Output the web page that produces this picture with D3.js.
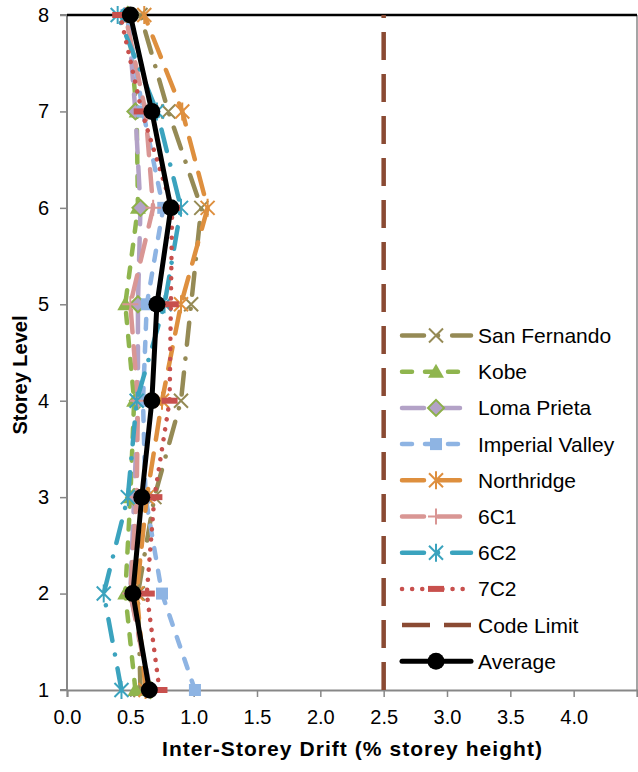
<!DOCTYPE html>
<html>
<head>
<meta charset="utf-8">
<script src="https://cdn.jsdelivr.net/npm/d3@7"></script>
<style>
  html, body { margin: 0; padding: 0; background: #fff; }
  svg { display: block; font-family: "Liberation Sans", Arial, sans-serif; }
</style>
</head>
<body>
<svg id="chart" width="638" height="772"></svg>
<script>
// Storey levels (y) and inter-storey drift per ground motion (x, % storey height)
const levels = [1, 2, 3, 4, 5, 6, 7, 8];
const sanFernando    = [0.58, 0.56, 0.69, 0.90, 0.98, 1.06, 0.80, 0.58];
const kobe           = [0.54, 0.46, 0.50, 0.53, 0.46, 0.56, 0.55, 0.48];
const lomaPrieta     = [0.66, 0.50, 0.53, 0.56, 0.56, 0.58, 0.54, 0.48];
const imperialValley = [1.01, 0.75, 0.62, 0.60, 0.63, 0.76, 0.60, 0.47];
const northridge     = [0.62, 0.55, 0.63, 0.75, 0.90, 1.11, 0.91, 0.61];
const record6C1      = [0.65, 0.50, 0.55, 0.56, 0.50, 0.68, 0.62, 0.46];
const record6C2      = [0.43, 0.29, 0.48, 0.55, 0.77, 0.90, 0.71, 0.40];
const record7C2      = [0.73, 0.63, 0.69, 0.81, 0.82, 0.83, 0.59, 0.42];
const average        = [0.65, 0.52, 0.59, 0.67, 0.71, 0.82, 0.67, 0.50];
const codeLimitLevels = [1, 8];
const codeLimitDrift  = [2.5, 2.5];

const xTicks = [0, 0.5, 1.0, 1.5, 2.0, 2.5, 3.0, 3.5, 4.0, 4.5];
const yTicks = [1, 2, 3, 4, 5, 6, 7, 8];

const svg = d3.select("#chart");
const x = d3.scaleLinear().domain([0, 4.5]).range([67, 637]);
const y = d3.scaleLinear().domain([1, 8]).range([690, 15]);

// line styles: dasharrays tuned for round caps
const dash = {
  longDash: "22,14",
  dash: "10,13",
  longDashDot: "22,14,0.1,14",
  roundDot: "0.1,10"
};

// marker painters: draw a symbol centred on (0,0) into group g
function mX(g, c) {
  g.append("path").attr("d", "M-7,-7L7,7M-7,7L7,-7")
    .attr("stroke", c).attr("stroke-width", 2).attr("fill", "none");
}
function mStar(g, c) {
  g.append("path").attr("d", "M-7,-7L7,7M-7,7L7,-7M0,-9L0,9")
    .attr("stroke", c).attr("stroke-width", 2).attr("fill", "none");
}
function mPlus(g, c) {
  g.append("path").attr("d", "M-8,0L8,0M0,-8L0,8")
    .attr("stroke", c).attr("stroke-width", 2).attr("fill", "none");
}
function mTri(g, c) {
  g.append("path").attr("d", "M0,-8L8,6L-8,6Z").attr("fill", c);
}
function mDiamond(g, c) {
  g.append("path").attr("d", "M0,-8L8,0L0,8L-8,0Z")
    .attr("fill", c).attr("stroke", "#8DB04A").attr("stroke-width", 2);
}
function mSquare(g, c) {
  g.append("rect").attr("x", -6).attr("y", -6).attr("width", 12).attr("height", 12).attr("fill", c);
}
function mBar(g, c) {
  g.append("rect").attr("x", -8).attr("y", -3).attr("width", 16).attr("height", 6).attr("fill", c);
}
function mCircle(g, c) {
  g.append("circle").attr("r", 8.5).attr("fill", c);
}

const series = [
  { name: "San Fernando",    values: sanFernando,    color: "#958A55", dash: dash.longDashDot, width: 4.5, marker: mX },
  { name: "Kobe",            values: kobe,           color: "#8FB54E", dash: dash.dash,        width: 4.5, marker: mTri },
  { name: "Loma Prieta",     values: lomaPrieta,     color: "#B3A2C7", dash: dash.longDash,    width: 4.5, marker: mDiamond },
  { name: "Imperial Valley", values: imperialValley, color: "#8EB4E3", dash: dash.dash,        width: 4.5, marker: mSquare },
  { name: "Northridge",      values: northridge,     color: "#DE8F3E", dash: dash.longDash,    width: 4.5, marker: mStar },
  { name: "6C1",             values: record6C1,      color: "#D99694", dash: dash.longDash,    width: 4.5, marker: mPlus },
  { name: "6C2",             values: record6C2,      color: "#3BA3BE", dash: dash.longDashDot, width: 4.5, marker: mStar },
  { name: "7C2",             values: record7C2,      color: "#C8504D", dash: dash.roundDot,    width: 4.5, marker: mBar },
  { name: "Code Limit",      values: codeLimitDrift, lv: codeLimitLevels, color: "#8A4A33", dash: "28,14", width: 4.5, marker: null, cap: "butt" },
  { name: "Average",         values: average,        color: "#000000", dash: null,             width: 5,   marker: mCircle }
];

// axes
const axisColor = "#878787";
const xAxis = d3.axisBottom(x).tickValues(xTicks).tickSize(7).tickPadding(13)
  .tickFormat(d => d === 4.5 ? "" : d3.format(".1f")(d));
const gx = svg.append("g").attr("transform", `translate(0,${y(1)})`).call(xAxis);
const yAxis = d3.axisLeft(y).tickValues(yTicks).tickSize(7).tickPadding(11).tickFormat(d3.format("d"));
const gy = svg.append("g").attr("transform", `translate(${x(0)},0)`).call(yAxis);
[gx, gy].forEach(g => {
  g.select(".domain").attr("stroke", axisColor).attr("stroke-width", 2);
  g.selectAll(".tick line").attr("stroke", axisColor).attr("stroke-width", 1.5);
  g.selectAll(".tick text").attr("fill", "#000").style("font-size", "20px")
    .style("font-family", "'Liberation Sans', Arial, sans-serif");
});
gy.select(".domain").attr("d", `M-7,${y(8)}H0V${y(1)}H-7`);

// plot area frame: right edge and top edge
svg.append("line").attr("x1", x(4.5)).attr("x2", x(4.5)).attr("y1", y(8)).attr("y2", y(1))
  .attr("stroke", axisColor).attr("stroke-width", 1.5);
svg.append("line").attr("x1", x(0)).attr("x2", x(4.5)).attr("y1", y(8)).attr("y2", y(8))
  .attr("stroke", "#000").attr("stroke-width", 2.5);

// series
const line = d3.line().x(d => x(d[0])).y(d => y(d[1]));
series.forEach(s => {
  const lv = s.lv || levels;
  const pts = s.values.map((v, i) => [v, lv[i]]);
  svg.append("path").datum(pts).attr("d", line)
    .attr("fill", "none").attr("stroke", s.color).attr("stroke-width", s.width)
    .attr("stroke-linecap", s.cap || "round").attr("stroke-linejoin", "round")
    .attr("stroke-dasharray", s.dash);
  if (s.marker) {
    pts.forEach(p => {
      const g = svg.append("g").attr("transform", `translate(${x(p[0])},${y(p[1])})`);
      s.marker(g, s.color);
    });
  }
});

// axis titles
svg.append("text").attr("x", 352).attr("y", 756).attr("text-anchor", "middle")
  .attr("textLength", 380).attr("lengthAdjust", "spacing")
  .style("font-size", "21px").style("font-weight", "bold").text("Inter-Storey Drift (% storey height)");
svg.append("text").attr("transform", "translate(27,375) rotate(-90)").attr("text-anchor", "middle")
  .style("font-size", "20px").style("font-weight", "bold").text("Storey Level");

// legend
const lg = svg.append("g");
series.forEach((s, i) => {
  const cy = 335.5 + i * 36.2;
  const row = lg.append("g").attr("transform", `translate(0,${cy})`);
  row.append("line").attr("x1", 402).attr("x2", 471).attr("y1", 0).attr("y2", 0)
    .attr("stroke", s.color).attr("stroke-width", s.width)
    .attr("stroke-linecap", s.cap || "round").attr("stroke-dasharray", s.dash);
  if (s.marker) {
    const g = row.append("g").attr("transform", "translate(436,0)");
    s.marker(g, s.color);
  }
  row.append("text").attr("x", 478).attr("y", 0).attr("dy", "0.36em")
    .style("font-size", "21px").text(s.name);
});
</script>
</body>
</html>
